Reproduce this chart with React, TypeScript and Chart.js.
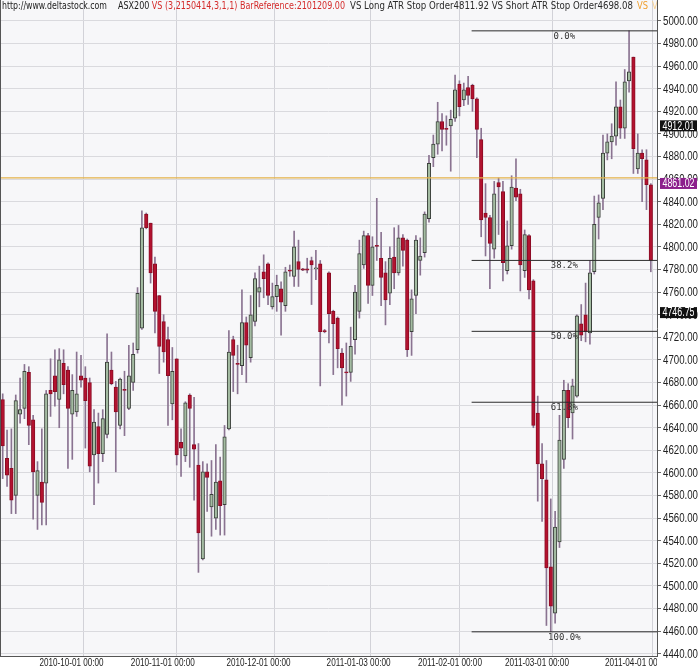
import React, { useEffect, useRef } from 'react';
import { Chart, registerables } from 'chart.js';

Chart.register(...registerables);

// ASX200 daily candles, 2010-09-21 .. 2011-04-18 (index 0..149)
const opens = [
  4665, 4613, 4604, 4580, 4652, 4657, 4689, 4647, 4580, 4592,
  4591, 4673, 4686, 4665, 4697, 4691, 4652, 4654, 4686, 4684,
  4680, 4616, 4641, 4617, 4634, 4691, 4676, 4642, 4674, 4657,
  4680, 4709, 4728, 4829, 4821, 4785, 4757, 4734, 4718, 4661,
  4701, 4627, 4615, 4669, 4625, 4607, 4524, 4601, 4570, 4560,
  4593, 4572, 4639, 4718, 4697, 4695, 4733, 4702, 4734, 4760,
  4778, 4785, 4747, 4756, 4763, 4748, 4779.5, 4774, 4787, 4780.5,
  4780.5, 4788, 4780.5, 4785, 4726, 4777, 4743, 4737, 4706, 4689.5,
  4689, 4718, 4743, 4784, 4810, 4766, 4801.5, 4790, 4777, 4759,
  4791, 4777, 4808, 4806, 4725, 4757, 4788, 4795, 4825, 4879,
  4891, 4911, 4905, 4907, 4914, 4944, 4930, 4941, 4943, 4931,
  4895, 4830, 4826, 4798, 4857, 4849, 4779, 4801, 4852, 4847,
  4779, 4810, 4770, 4653, 4608, 4594, 4517, 4476, 4539, 4612,
  4673, 4653, 4668, 4732, 4740, 4724, 4778, 4826, 4843, 4883,
  4893, 4898, 4924, 4905, 4947, 4968, 4869, 4883, 4877, 4855,
];
const highs = [
  4670, 4638, 4639, 4669, 4684, 4696, 4694, 4651, 4610, 4639,
  4673, 4701, 4709, 4710, 4709, 4694, 4687, 4707, 4704, 4694,
  4684, 4656, 4653, 4656, 4723, 4707, 4681, 4684, 4690, 4713,
  4715, 4764, 4832, 4830, 4821, 4791, 4757, 4740, 4729, 4711,
  4701, 4639, 4663, 4670, 4667, 4626, 4610, 4608, 4611, 4625,
  4614, 4642, 4726, 4721, 4713, 4762, 4738, 4757, 4777, 4783,
  4793, 4786, 4768, 4775, 4769, 4782, 4784, 4814, 4806, 4781,
  4790, 4791, 4797, 4788, 4727, 4778, 4744, 4738, 4710, 4715,
  4729, 4766, 4806, 4814, 4812, 4809, 4843, 4813, 4787, 4800,
  4817, 4819, 4811, 4807, 4762, 4810, 4808, 4831, 4881, 4899,
  4928, 4918, 4916, 4921, 4952, 4947, 4945, 4951, 4944, 4932,
  4905, 4856, 4828, 4858, 4861, 4858, 4823, 4863, 4878, 4851,
  4815, 4811, 4771, 4668, 4626, 4611, 4577, 4566, 4651, 4682,
  4679, 4683, 4740, 4749, 4768, 4788, 4845, 4846, 4899, 4900,
  4909, 4946, 4930, 4957, 4991.2, 4968, 4900, 4886, 4886, 4856,
];
const lows = [
  4595, 4588, 4564, 4564, 4644, 4648, 4625, 4559, 4550, 4554,
  4554, 4650, 4659, 4640, 4670, 4604, 4612, 4650, 4676, 4622,
  4601, 4572, 4591, 4610, 4631, 4678, 4601, 4639, 4633, 4656,
  4673, 4706, 4727, 4816, 4768, 4724, 4688, 4698, 4642, 4647,
  4607, 4597, 4610, 4605, 4576, 4512, 4523, 4566, 4544, 4550,
  4545, 4545, 4638, 4672, 4670, 4687, 4680, 4698, 4730, 4747,
  4755, 4749, 4745, 4743, 4722, 4743, 4774, 4765, 4765, 4779,
  4777, 4749, 4771, 4677, 4724, 4715, 4687, 4693, 4660, 4668,
  4681, 4705, 4737, 4781, 4750, 4757, 4788, 4748, 4731, 4749,
  4763, 4775, 4783, 4703, 4704, 4741, 4775, 4791, 4822, 4871,
  4882, 4885, 4890, 4867, 4911, 4916, 4925, 4926, 4920, 4879,
  4809, 4792, 4763, 4790, 4811, 4770, 4776, 4798, 4841, 4761,
  4773, 4754, 4640, 4575, 4557, 4465, 4459.4, 4467, 4534, 4604,
  4640, 4630, 4667, 4717, 4716, 4714, 4776, 4807, 4833, 4877,
  4878, 4890, 4896, 4896, 4937, 4865, 4865, 4840, 4833, 4778,
];
const closes = [
  4624, 4598, 4576, 4664, 4656, 4690, 4642, 4601, 4602, 4574,
  4670, 4670, 4672, 4700, 4678, 4657, 4673, 4670, 4682, 4664,
  4606, 4645, 4617, 4648, 4698, 4679, 4654, 4683, 4673, 4686,
  4705, 4759, 4817, 4817, 4777, 4743, 4712, 4707, 4686, 4690,
  4616, 4622, 4662, 4657, 4621, 4547, 4601, 4596, 4581, 4592,
  4571, 4632, 4707, 4704, 4696, 4733, 4713, 4740, 4772, 4764,
  4772, 4757, 4756, 4766, 4751, 4778, 4778.5, 4800, 4780, 4779.5,
  4779.5, 4784, 4781.5, 4725, 4725, 4741, 4732, 4710, 4693, 4688.5,
  4712, 4760, 4794, 4810, 4766, 4800, 4800.5, 4773, 4753, 4790,
  4777, 4808, 4797, 4709, 4754, 4806, 4792, 4829, 4874, 4891,
  4911, 4904, 4904, 4913, 4939, 4924, 4939, 4934, 4931, 4904,
  4824, 4826, 4803, 4847, 4853, 4786, 4801, 4853, 4844, 4784,
  4811, 4762, 4642, 4608, 4595, 4516, 4482, 4552, 4629, 4673,
  4649, 4677, 4739, 4722, 4725, 4777, 4820, 4839, 4883, 4893,
  4898, 4924, 4905, 4946, 4955, 4887, 4883, 4878, 4855, 4788,
];

// month-start candle indices and their labels
const xTickIndex = [8, 29, 51, 74, 95, 115, 138];
const xTickLabels = [
  '2010-10-01 00:00', '2010-11-01 00:00', '2010-12-01 00:00', '2011-01-03 00:00',
  '2011-02-01 00:00', '2011-03-01 00:00', '2011-04-01 00:00',
];
const yTicks = [
  4440, 4460, 4480, 4500, 4520, 4540, 4560, 4580, 4600, 4620, 4640, 4660, 4680, 4700, 4720,
  4740, 4760, 4780, 4800, 4820, 4840, 4860, 4880, 4900, 4920, 4940, 4960, 4980, 5000,
];

const resistanceLevel = 4861.02;
const fibHigh = 4991.2;
const fibLow = 4459.4;
const fibPercents = [0, 38.2, 50, 61.8, 100];
const fibLabels = ['0.0%', '38.2%', '50.0%', '61.8%', '100.0%'];
const fibStartIndex = 107.8;

const markerValues = [4912.01, 4861.02, 4746.75];
const markerColors = ['#111111', '#8c1f8c', '#111111'];

const headerTexts = [
  'http://www.deltastock.com',
  'ASX200 ',
  'VS (3,2150414,3,1,1) BarReference:2101209.00',
  'VS Long ATR Stop Order4811.92 VS Short ATR Stop Order4698.08',
  'VS',
  'VS',
];

const X_MIN = -0.62;
const X_MAX = opens.length + 0.42;
const Y_MIN = 4438;
const Y_MAX = 5018.5;

const SANS = '"Liberation Sans", Arial, sans-serif';

// draw text horizontally condensed to a given width
function drawFit(ctx: CanvasRenderingContext2D, text: string, x: number, y: number, w: number, align: string) {
  const nat = ctx.measureText(text).width;
  const sx = w / nat;
  ctx.save();
  let x0 = x;
  if (align === 'center') x0 = x - w / 2;
  else if (align === 'right') x0 = x - w;
  ctx.translate(x0, y);
  ctx.scale(sx, 1);
  ctx.textAlign = 'left';
  ctx.fillText(text, 0, 0);
  ctx.restore();
}

const decorPlugin = {
  id: 'decor',
  beforeDraw(chart: any) {
    const { ctx, chartArea: a, width, height } = chart;
    ctx.save();
    ctx.fillStyle = '#ffffff';
    ctx.fillRect(0, 0, width, height);
    ctx.fillStyle = '#f7f7f9';
    ctx.fillRect(a.left, a.top, a.right - a.left, a.bottom - a.top);
    ctx.restore();
  },
  afterDraw(chart: any) {
    const { ctx, chartArea: a, scales } = chart;
    const xs = scales.x;
    const ys = scales.y;
    ctx.save();
    // left frame line
    ctx.strokeStyle = '#555';
    ctx.lineWidth = 1;
    ctx.beginPath();
    ctx.moveTo(a.left + 0.5, a.top);
    ctx.lineTo(a.left + 0.5, a.bottom);
    ctx.stroke();

    // fibonacci labels
    ctx.font = '9px "DejaVu Sans Mono", monospace';
    ctx.fillStyle = '#333';
    ctx.textAlign = 'center';
    ctx.textBaseline = 'middle';
    const fx = (xs.getPixelForValue(fibStartIndex) + a.right) / 2;
    fibPercents.forEach((p, k) => {
      const v = fibHigh - ((fibHigh - fibLow) * p) / 100;
      ctx.fillText(fibLabels[k], fx, ys.getPixelForValue(v) + 5.5);
    });

    // y axis labels
    ctx.font = '12px ' + SANS;
    ctx.fillStyle = '#222';
    ctx.textBaseline = 'middle';
    yTicks.forEach((v) => {
      drawFit(ctx, v.toFixed(2), a.right + 6, ys.getPixelForValue(v) + 0.5, 35, 'left');
    });

    // x axis labels (clipped at plot right edge)
    ctx.save();
    ctx.beginPath();
    ctx.rect(a.left, a.bottom, a.right - a.left, chart.height - a.bottom);
    ctx.clip();
    ctx.font = '11px ' + SANS;
    ctx.fillStyle = '#222';
    ctx.textBaseline = 'middle';
    xTickIndex.forEach((idx, k) => {
      drawFit(ctx, xTickLabels[k], xs.getPixelForValue(idx) + 2, a.bottom + 7, 64, 'left');
    });
    ctx.restore();

    // header text
    ctx.save();
    ctx.beginPath();
    ctx.rect(a.left, a.top, a.right - a.left, a.bottom - a.top);
    ctx.clip();
    ctx.font = '10px "DejaVu Sans", sans-serif';
    ctx.textAlign = 'left';
    ctx.textBaseline = 'middle';
    const runs = [
      { x: 2, end: 107, parts: [[headerTexts[0], '#1a1a1a']] },
      { x: 118, end: 345, parts: [[headerTexts[1], '#1a1a1a'], [headerTexts[2], '#d42a2a']] },
      { x: 350, end: 633, parts: [[headerTexts[3], '#2a2a2a']] },
      { x: 637, end: 648, parts: [[headerTexts[4], '#f0a030']] },
      { x: 652, end: 663, parts: [[headerTexts[5], '#f5cf90']] },
    ];
    runs.forEach((r) => {
      const total = r.parts.reduce((s, p) => s + ctx.measureText(p[0]).width, 0);
      const sx = (r.end - r.x) / total;
      ctx.save();
      ctx.translate(r.x, 6.5);
      ctx.scale(sx, 1);
      let cx = 0;
      r.parts.forEach((p) => {
        ctx.fillStyle = p[1];
        ctx.fillText(p[0], cx, 0);
        cx += ctx.measureText(p[0]).width;
      });
      ctx.restore();
    });
    ctx.restore();

    // price marker boxes on the right axis
    ctx.font = '12px ' + SANS;
    ctx.textBaseline = 'middle';
    markerValues.forEach((v, k) => {
      const y = ys.getPixelForValue(v);
      ctx.fillStyle = markerColors[k];
      ctx.fillRect(a.right + 3, y, 37, 11);
      ctx.fillStyle = '#ffffff';
      drawFit(ctx, v.toFixed(2), a.right + 3 + 18.5, y + 6, 32, 'center');
    });
    ctx.restore();
  },
};

export default function App() {
  const ref = useRef<HTMLCanvasElement | null>(null);

  useEffect(() => {
    document.body.style.margin = '0';
    const canvas = ref.current;
    if (!canvas) return;

    const bodies = opens.map((o, i) => ({ x: i, y: [o, closes[i]] }));
    const wicks = lows.map((l, i) => ({ x: i, y: [l, highs[i]] }));
    const isUp = (i: number) => closes[i] >= opens[i];

    const fibDatasets = fibPercents.map((p) => {
      const v = fibHigh - ((fibHigh - fibLow) * p) / 100;
      return {
        type: 'line' as const,
        label: 'fib ' + p,
        data: [
          { x: fibStartIndex, y: v },
          { x: X_MAX, y: v },
        ],
        borderColor: '#2b2b2b',
        borderWidth: 1,
        pointRadius: 0,
        order: -2,
      };
    });

    const chart = new Chart(canvas, {
      type: 'bar',
      data: {
        datasets: [
          {
            type: 'line',
            label: 'level',
            data: [
              { x: X_MIN, y: resistanceLevel },
              { x: X_MAX, y: resistanceLevel },
            ],
            borderColor: '#e3b24a',
            borderWidth: 1.2,
            pointRadius: 0,
            order: -1,
          } as any,
          ...(fibDatasets as any[]),
          {
            label: 'body',
            data: bodies as any,
            grouped: false,
            barThickness: 3.5,
            borderWidth: 1,
            borderSkipped: false,
            backgroundColor: (c: any) => (isUp(c.dataIndex) ? '#a4bca2' : '#b3122f'),
            borderColor: (c: any) => (isUp(c.dataIndex) ? '#3a3f3a' : '#8a0c24'),
            order: 0,
          } as any,
          {
            label: 'wick',
            data: wicks as any,
            grouped: false,
            barThickness: 1,
            borderWidth: 0,
            backgroundColor: '#8a7391',
            order: 1,
          } as any,
        ],
      },
      options: {
        responsive: false,
        animation: false,
        devicePixelRatio: 1,
        events: [],
        layout: { padding: 0 },
        plugins: { legend: { display: false }, tooltip: { enabled: false } },
        scales: {
          x: {
            type: 'linear',
            min: X_MIN,
            max: X_MAX,
            offset: false,
            afterBuildTicks: (s: any) => {
              s.ticks = xTickIndex.map((v) => ({ value: v }));
            },
            afterFit: (s: any) => {
              s.height = 14;
              s.paddingLeft = 0;
              s.paddingRight = 0;
            },
            ticks: { display: false },
            grid: { color: '#d2d2d8', drawTicks: false },
            border: { display: true, color: '#555' },
          },
          y: {
            type: 'linear',
            position: 'right',
            min: Y_MIN,
            max: Y_MAX,
            afterBuildTicks: (s: any) => {
              s.ticks = yTicks.map((v) => ({ value: v }));
            },
            afterFit: (s: any) => {
              s.width = 43;
              s.paddingTop = 0;
              s.paddingBottom = 0;
            },
            ticks: { display: false },
            grid: { color: '#dadade', tickLength: 4, tickColor: '#666' },
            border: { display: true, color: '#555' },
          },
        },
      },
      plugins: [decorPlugin],
    } as any);

    return () => chart.destroy();
  }, []);

  return <canvas ref={ref} width={700} height={670} style={{ display: 'block', width: 700, height: 670 }} />;
}
